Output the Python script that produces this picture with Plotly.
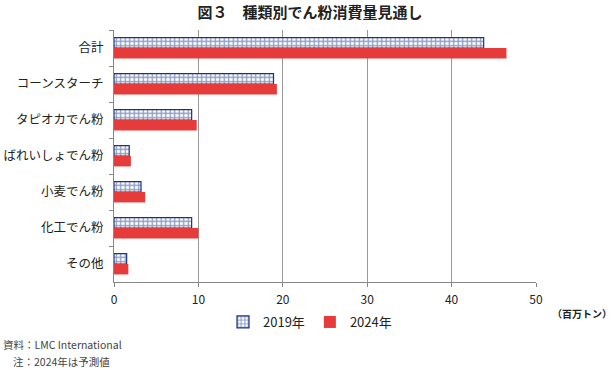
import plotly.graph_objects as go

categories = ["合計", "コーンスターチ", "タピオカでん粉", "ばれいしょでん粉", "小麦でん粉", "化工でん粉", "その他"]
values_2019 = [43.8, 18.9, 9.2, 1.8, 3.2, 9.2, 1.5]
values_2024 = [46.5, 19.3, 9.8, 2.0, 3.7, 10.0, 1.7]
x_ticks = [0, 10, 20, 30, 40, 50]

FONT = "Noto Sans CJK JP"
W, H = 611, 370
PW, PH = 422, 252
PL, PT = 114, 30  # plot-area left/top in pixels

fig = go.Figure()
fig.add_trace(go.Bar(
    y=categories, x=values_2019, orientation="h", name="2019年",
    marker=dict(color="white", line=dict(color="#1a3580", width=1.2),
                pattern=dict(shape="+", fgcolor="#1a3580", bgcolor="white", size=4.5, solidity=0.5)),
))
fig.add_trace(go.Bar(
    y=categories, x=values_2024, orientation="h", name="2024年",
    marker=dict(color="#e53b3b", line=dict(color="#e53b3b", width=0)),
))

fig.update_layout(
    width=W, height=H,
    margin=dict(l=PL, r=W - PL - PW, t=PT, b=H - PT - PH, autoexpand=False),
    paper_bgcolor="white", plot_bgcolor="white",
    barmode="group", bargap=0.42, bargroupgap=0.0,
    font=dict(family=FONT, size=12, color="#222"),
    title=dict(text="<b>図３　種類別でん粉消費量見通し</b>", x=310 / W,
               xanchor="center", y=1 - 13 / H, yanchor="middle",
               font=dict(family=FONT, size=15, color="#222")),
    showlegend=True,
    legend=dict(orientation="h", x=(310 - PL) / PW, xanchor="center", y=-(322 - PT - PH) / PH,
                yanchor="middle", font=dict(family=FONT, size=13, color="#222"), itemwidth=30,
                traceorder="normal", tracegroupgap=0, bgcolor="rgba(0,0,0,0)"),
    xaxis=dict(range=[0, 50], tickvals=x_ticks, showgrid=True, gridcolor="#999", gridwidth=1,
               showline=True, linecolor="#888", linewidth=1, ticks="outside", ticklen=4,
               tickcolor="#888", zeroline=False, tickfont=dict(size=12, color="#222"),
               ticklabelstandoff=3, automargin=False),
    yaxis=dict(autorange="reversed", showline=True, linecolor="#888", linewidth=1,
               ticks="outside", ticklen=4, tickcolor="#888", tickson="boundaries",
               tickfont=dict(size=12.5, color="#222"), ticklabelstandoff=7,
               showgrid=False, automargin=False),
)

fig.add_annotation(text="<b>（百万トン）</b>", xref="paper", yref="paper", x=(550 - PL) / PW,
                   y=-(313 - PT - PH) / PH, xanchor="left", yanchor="middle", showarrow=False,
                   font=dict(family=FONT, size=10, color="#222"))
fig.add_annotation(text="資料：LMC International", xref="paper", yref="paper",
                   x=-(PL - 1) / PW, y=-(344 - PT - PH) / PH, xanchor="left", yanchor="middle",
                   showarrow=False, font=dict(family=FONT, size=10.5, color="#444"))
fig.add_annotation(text="注：2024年は予測値", xref="paper", yref="paper",
                   x=-(PL - 11) / PW, y=-(361 - PT - PH) / PH, xanchor="left", yanchor="middle",
                   showarrow=False, font=dict(family=FONT, size=10.5, color="#444"))

# remove the default 8px page margin so the 611x370 figure fills the window exactly
fig.write_html("out.html", config={"displayModeBar": False},
               post_script="document.body.style.margin='0';document.body.style.overflow='hidden';")
